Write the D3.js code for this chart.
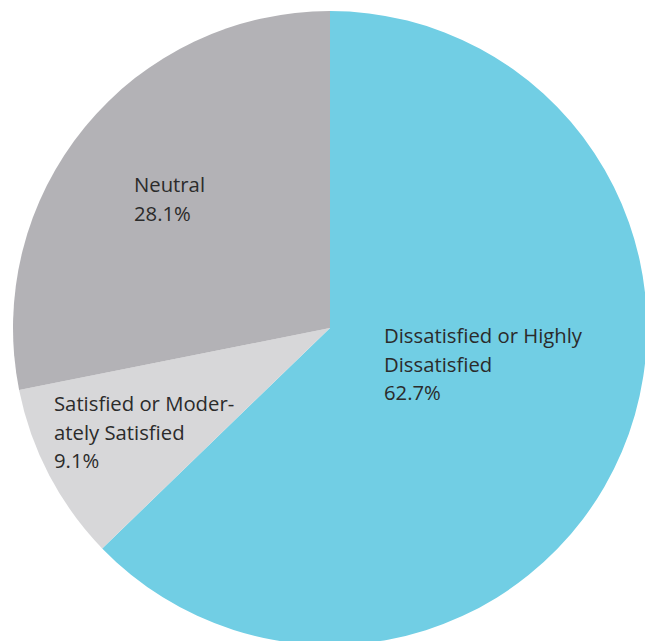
<!DOCTYPE html>
<html>
<head>
<meta charset="utf-8">
<script src="https://cdn.jsdelivr.net/npm/d3@7"></script>
<style>
  html, body { margin: 0; padding: 0; background: #fff; overflow: hidden; }
  text { font-family: 'Open Sans', 'Noto Sans', sans-serif; fill: #2b2b2b; }
</style>
</head>
<body>
<div class="chart"></div>
<script>
const categories = ['Dissatisfied or Highly Dissatisfied', 'Satisfied or Moderately Satisfied', 'Neutral'];
const values = [62.7, 9.1, 28.1];
const colors = ['#71cee4', '#d7d7d9', '#b3b2b6'];
// label lines as printed, with hyphenation of the original
const labelLines = [
  ['Dissatisfied or Highly', 'Dissatisfied', '62.7%'],
  ['Satisfied or Moder-', 'ately Satisfied', '9.1%'],
  ['Neutral', '28.1%']
];
// label anchor (left x, first baseline) relative to pie centre
const labelPos = [[54, 15], [-276, 83], [-196, -136]];

const width = 645;
const height = 641;
const cx = 330;
const cy = 328;
const radius = 317;

const svg = d3.select('.chart')
  .append('svg')
  .attr('width', width)
  .attr('height', height);

const g = svg.append('g')
  .attr('transform', `translate(${cx},${cy})`);

const pie = d3.pie()
  .sort(null)
  .value(d => d);

const arc = d3.arc()
  .innerRadius(0)
  .outerRadius(radius);

const arcs = pie(values);

g.selectAll('path')
  .data(arcs)
  .enter()
  .append('path')
  .attr('d', arc)
  .attr('fill', (d, i) => colors[i]);

const labels = g.selectAll('text.label')
  .data(labelLines)
  .enter()
  .append('text')
  .attr('class', 'label')
  .attr('x', (d, i) => labelPos[i][0])
  .attr('y', (d, i) => labelPos[i][1])
  .style('font-size', '20.3px');

labels.selectAll('tspan')
  .data((d, i) => d.map(line => ({ line, i })))
  .enter()
  .append('tspan')
  .attr('x', d => labelPos[d.i][0])
  .attr('dy', (d, j) => (j === 0 ? 0 : 28.5))
  .text(d => d.line);
</script>
</body>
</html>
